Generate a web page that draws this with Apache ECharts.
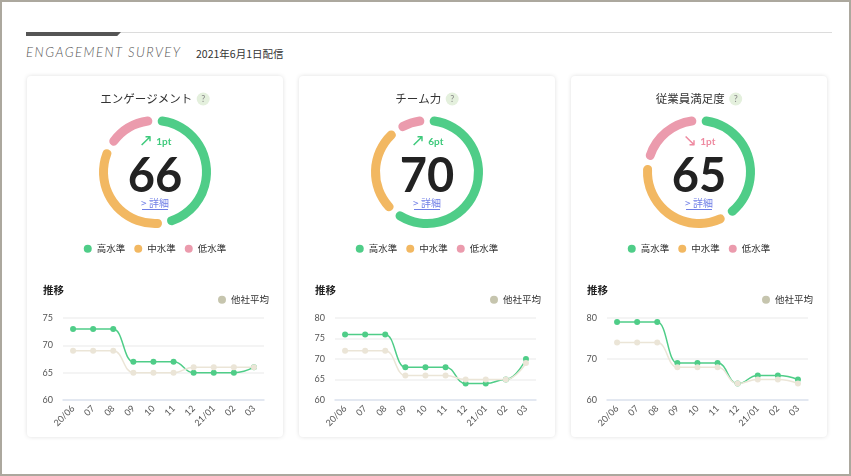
<!DOCTYPE html>
<html>
<head>
<meta charset="utf-8">
<script src="https://cdn.jsdelivr.net/npm/echarts@6/dist/echarts.min.js"></script>
<style>
  html, body { margin: 0; padding: 0; background: #fff; }
  body { width: 851px; height: 476px; position: relative; overflow: hidden;
    font-family: 'Noto Sans CJK JP', 'Noto Sans', sans-serif; }
  .frame { position: absolute; left: 0; top: 0; width: 851px; height: 476px;
    box-sizing: border-box; border: 2px solid #aca89e; }
  .rule { position: absolute; left: 26px; top: 32px; width: 806px; height: 1px; background: #dcdcdc; }
  .rule-bar { position: absolute; left: 26px; top: 32px; width: 95px; height: 4px; background: #555;
    clip-path: polygon(0 0, 100% 0, 96% 100%, 0 100%); }
  .head { position: absolute; left: 26px; top: 44px; font-family: Lato, sans-serif; font-style: italic;
    font-weight: 300; font-size: 13px; letter-spacing: 1.5px; color: #555; }
  .date { position: absolute; left: 196px; top: 46px; font-size: 10.5px; color: #333; }
  .card { position: absolute; top: 76px; width: 256px; height: 361px; background: #fff;
    border-radius: 4px; box-shadow: 0 0 4px rgba(0,0,0,0.13); }
  .card .chart { width: 256px; height: 361px; }
</style>
</head>
<body>
<div class="frame"></div>
<div class="rule"></div>
<div class="rule-bar"></div>
<div class="head">ENGAGEMENT SURVEY</div>
<div class="date">2021年6月1日配信</div>
<div class="card" style="left:27px"><div class="chart" id="c0"></div></div>
<div class="card" style="left:299px"><div class="chart" id="c1"></div></div>
<div class="card" style="left:571px"><div class="chart" id="c2"></div></div>
<script>
// カテゴリ・値
var months = ['20/06', '07', '08', '09', '10', '11', '12', '21/01', '02', '03']
var titles = ['エンゲージメント', 'チーム力', '従業員満足度']
var scores = [66, 70, 65]
var diffs = [1, 6, -1]
var levelNames = ['高水準', '中水準', '低水準']
var engagementLevels = [47, 36, 17]
var teamLevels = [61, 29, 10]
var satisfactionLevels = [41, 37, 22]
var engagementScores = [73, 73, 73, 67, 67, 67, 65, 65, 65, 66]
var engagementAverage = [69, 69, 69, 65, 65, 65, 66, 66, 66, 66]
var teamScores = [76, 76, 76, 68, 68, 68, 64, 64, 65, 70]
var teamAverage = [72, 72, 72, 66, 66, 66, 65, 65, 65, 69]
var satisfactionScores = [79, 79, 79, 69, 69, 69, 64, 66, 66, 65]
var satisfactionAverage = [74, 74, 74, 68, 68, 68, 64, 65, 65, 64]
var yTicks = [[60, 75, 5], [60, 80, 5], [60, 80, 10]]

var levels = [engagementLevels, teamLevels, satisfactionLevels]
var trend = [engagementScores, teamScores, satisfactionScores]
var average = [engagementAverage, teamAverage, satisfactionAverage]

var GREEN = '#4fcd88'
var ORANGE = '#f2b862'
var PINK = '#eb9bad'
var FONT = "Lato, 'Noto Sans CJK JP', sans-serif"
var JP = "'Noto Sans CJK JP', sans-serif"

function buildOption(i) {
  var up = diffs[i] >= 0
  var arrowColor = up ? '#3fca7c' : '#ee8aa0'
  var pieData = []
  for (var k = 0; k < levelNames.length; k++) {
    pieData.push({ name: levelNames[k], value: levels[i][k] })
  }
  return {
    textStyle: { fontFamily: FONT },
    color: [GREEN, ORANGE, PINK],
    title: [{
      left: 'center',
      top: 9,
      text: '{t|' + titles[i] + '} {q|?}',
      textStyle: {
        rich: {
          t: { fontSize: 11.5, color: '#333', fontWeight: 'normal', fontFamily: JP },
          q: { fontSize: 9, color: '#888', fontWeight: 'normal', backgroundColor: '#e4f0dd', borderRadius: 7,
               width: 13, height: 13, align: 'center', lineHeight: 13 }
        }
      }
    }, {
      left: 11,
      top: 204,
      text: '推移',
      textStyle: { fontSize: 10.5, fontWeight: 'bold', color: '#222', fontFamily: JP }
    }],
    legend: [{
      data: levelNames,
      top: 163,
      left: 'center',
      icon: 'circle',
      itemWidth: 8,
      itemHeight: 8,
      itemGap: 9,
      selectedMode: false,
      textStyle: { fontSize: 9.5, color: '#333', fontFamily: JP }
    }, {
      data: [{ name: '他社平均', itemStyle: { color: '#c6c5ae' } }],
      top: 214,
      right: 9,
      icon: 'circle',
      itemWidth: 8,
      itemHeight: 8,
      selectedMode: false,
      textStyle: { fontSize: 9.5, color: '#333', fontFamily: JP }
    }],
    graphic: [{
      type: 'text',
      left: 'center',
      top: 57,
      style: {
        text: '{a|' + (up ? '↗' : '↘') + '} {p|' + Math.abs(diffs[i]) + 'pt}',
        rich: {
          a: { fontSize: 17, fill: arrowColor, fontFamily: 'DejaVu Sans' },
          p: { fontSize: 10, fontWeight: 'bold', fill: arrowColor, fontFamily: FONT }
        }
      }
    }, {
      type: 'text',
      x: 128,
      y: 101,
      style: {
        text: String(scores[i]),
        align: 'center',
        verticalAlign: 'middle',
        fontSize: 47,
        fontWeight: 'bold',
        fill: '#222',
        fontFamily: FONT
      }
    }, {
      type: 'text',
      x: 128,
      y: 127,
      style: {
        text: '> 詳細',
        align: 'center',
        verticalAlign: 'middle',
        fontSize: 10,
        fill: '#6f7ee6',
        fontFamily: JP
      }
    }, {
      type: 'line',
      shape: { x1: 115, y1: 133.5, x2: 141, y2: 133.5 },
      style: { stroke: '#6f7ee6', lineWidth: 1 }
    }],
    grid: { left: 36, right: 19, top: 242, bottom: 37 },
    xAxis: {
      type: 'category',
      data: months,
      axisLine: { lineStyle: { color: '#dde3ef', width: 1.5 } },
      axisTick: { show: false },
      axisLabel: { rotate: 45, fontSize: 9, color: '#555', margin: 7, interval: 0 }
    },
    yAxis: {
      type: 'value',
      min: yTicks[i][0],
      max: yTicks[i][1],
      interval: yTicks[i][2],
      axisLabel: { fontSize: 9, color: '#555', margin: 10 },
      splitLine: { lineStyle: { color: '#f0f0f0', width: 1.5 } }
    },
    series: [{
      type: 'pie',
      center: [128, 96],
      radius: [47, 56],
      startAngle: 90,
      padAngle: 6,
      silent: true,
      label: { show: false },
      labelLine: { show: false },
      itemStyle: { borderRadius: 5 },
      data: pieData
    }, {
      name: 'スコア',
      type: 'line',
      data: trend[i],
      smooth: 0.5,
      smoothMonotone: 'x',
      symbol: 'circle',
      symbolSize: 6,
      lineStyle: { color: GREEN, width: 1.5 },
      itemStyle: { color: GREEN }
    }, {
      name: '他社平均',
      type: 'line',
      data: average[i],
      smooth: 0.5,
      smoothMonotone: 'x',
      symbol: 'circle',
      symbolSize: 6,
      lineStyle: { color: '#ebe5d7', width: 1.5 },
      itemStyle: { color: '#ebe5d7' }
    }]
  }
}

for (var i = 0; i < 3; i++) {
  var chart = echarts.init(document.getElementById('c' + i))
  chart.setOption(buildOption(i))
}
</script>
</body>
</html>
